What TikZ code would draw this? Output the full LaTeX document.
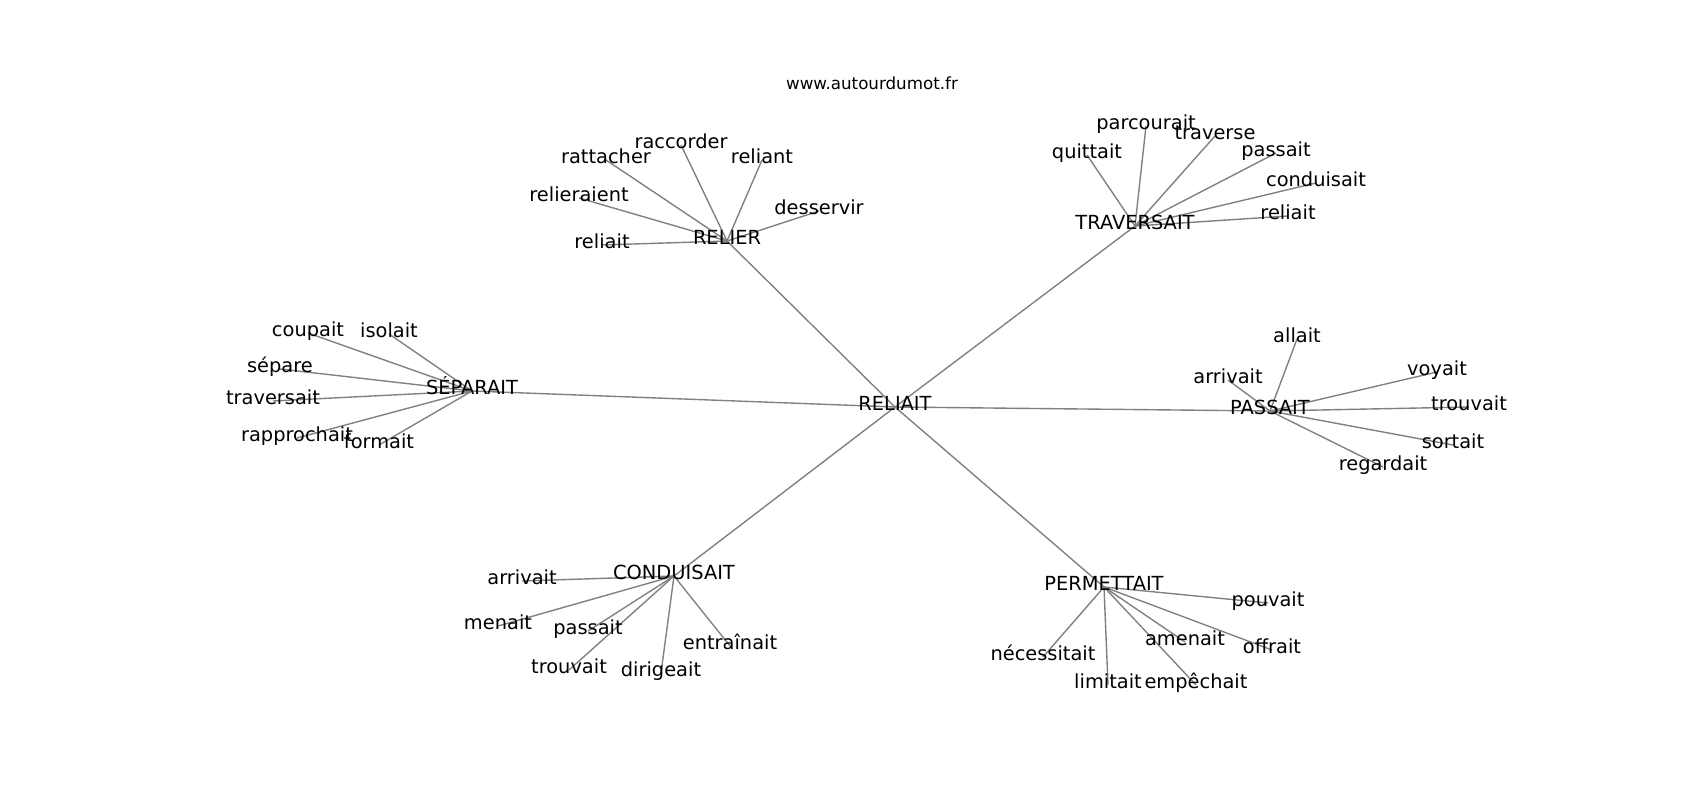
\documentclass[tikz,border=0pt]{standalone}
\usepackage{fontspec}
\setmainfont{DejaVu Sans}
\usetikzlibrary{backgrounds}
\tikzset{
  word/.style={inner sep=0pt,text height=0.76em,text depth=0.1em,font=\fontsize{19.4}{23}\selectfont},
  site/.style={inner sep=0pt,font=\fontsize{16.7}{20}\selectfont},
  link/.style={draw=gray,line width=1.39pt}
}
\begin{document}
\begin{tikzpicture}[x=1pt,y=-1pt,line cap=round,line join=round]
\useasboundingbox (0,0) rectangle (1700,800);
\node[site] (site) at (872,83) {www.autourdumot.fr};
\node[word] (reliait) at (895,407) {RELIAIT};
%\node[word] (relier) ...
\node[word] (relier) at (727,241) {RELIER};
\node[word] (rattacher) at (606,160) {rattacher};
\node[word] (raccorder) at (681,145) {raccorder};
\node[word] (reliant) at (762,160) {reliant};
\node[word] (relieraient) at (579,198) {relieraient};
\node[word] (reliaitR) at (602,245) {reliait};
\node[word] (desservir) at (819,211) {desservir};
\node[word] (traversait) at (1135,226) {TRAVERSAIT};
\node[word] (quittait) at (1087,155) {quittait};
\node[word] (parcourait) at (1146,126) {parcourait};
\node[word] (traverse) at (1215,136) {traverse};
\node[word] (passaitT) at (1276,153) {passait};
\node[word] (conduisaitT) at (1316,183) {conduisait};
\node[word] (reliaitT) at (1288,216) {reliait};
\node[word] (separait) at (472,391) {SÉPARAIT};
\node[word] (coupait) at (308,333) {coupait};
\node[word] (isolait) at (389,334) {isolait};
\node[word] (separe) at (280,369) {sépare};
\node[word] (traversaitS) at (273,401) {traversait};
\node[word] (rapprochait) at (297,438) {rapprochait};
\node[word] (formait) at (379,445) {formait};
\node[word] (passait) at (1270,411) {PASSAIT};
\node[word] (allait) at (1297,339) {allait};
\node[word] (arrivaitP) at (1228,380) {arrivait};
\node[word] (voyait) at (1437,372) {voyait};
\node[word] (trouvaitP) at (1469,407) {trouvait};
\node[word] (sortait) at (1453,445) {sortait};
\node[word] (regardait) at (1383,467) {regardait};
\node[word] (conduisait) at (674,576) {CONDUISAIT};
\node[word] (arrivaitC) at (522,581) {arrivait};
\node[word] (menait) at (498,626) {menait};
\node[word] (passaitC) at (588,631) {passait};
\node[word] (trouvaitC) at (569,670) {trouvait};
\node[word] (dirigeait) at (661,673) {dirigeait};
\node[word] (entrainait) at (730,646) {entraînait};
\node[word] (permettait) at (1104,587) {PERMETTAIT};
\node[word] (pouvait) at (1268,603) {pouvait};
\node[word] (offrait) at (1272,650) {offrait};
\node[word] (amenait) at (1185,642) {amenait};
\node[word] (empechait) at (1196,685) {empêchait};
\node[word] (limitait) at (1108,685) {limitait};
\node[word] (necessitait) at (1043,657) {nécessitait};
\begin{pgfonlayer}{background}
\foreach \b in {relier,traversait,separait,passait,conduisait,permettait}
  \draw[link] (reliait.center) -- (\b.center);
\foreach \b in {rattacher,raccorder,reliant,relieraient,reliaitR,desservir}
  \draw[link] (relier.center) -- (\b.center);
\foreach \b in {quittait,parcourait,traverse,passaitT,conduisaitT,reliaitT}
  \draw[link] (traversait.center) -- (\b.center);
\foreach \b in {coupait,isolait,separe,traversaitS,rapprochait,formait}
  \draw[link] (separait.center) -- (\b.center);
\foreach \b in {allait,arrivaitP,voyait,trouvaitP,sortait,regardait}
  \draw[link] (passait.center) -- (\b.center);
\foreach \b in {arrivaitC,menait,passaitC,trouvaitC,dirigeait,entrainait}
  \draw[link] (conduisait.center) -- (\b.center);
\foreach \b in {pouvait,offrait,amenait,empechait,limitait,necessitait}
  \draw[link] (permettait.center) -- (\b.center);
\end{pgfonlayer}
\end{tikzpicture}
\end{document}
